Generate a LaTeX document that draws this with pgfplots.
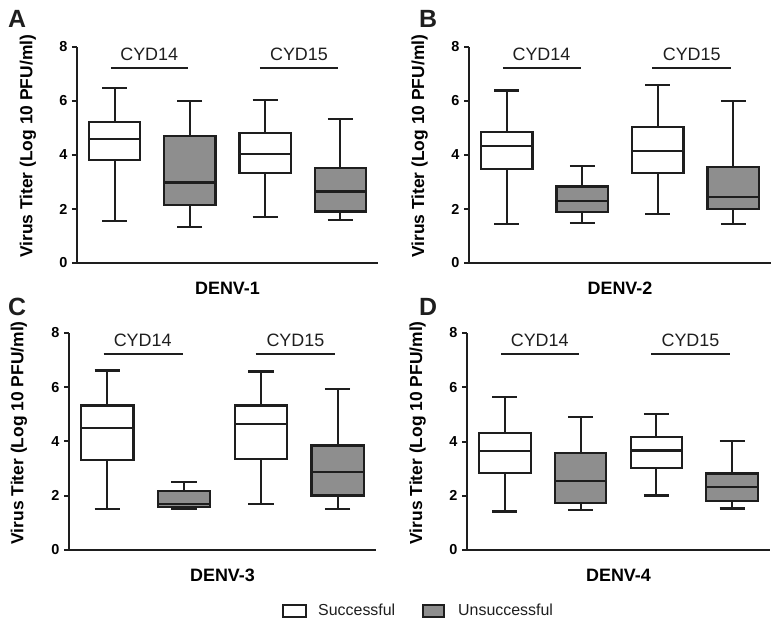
\documentclass[border=0pt]{standalone}
\usepackage{fontspec}
\setmainfont{Liberation Sans}
\usepackage{pgfplots}
\pgfplotsset{compat=1.18}
\usepgfplotslibrary{statistics}

\definecolor{boxgray}{HTML}{8E8E8E}
\definecolor{ink}{HTML}{1E1E1E}

\pgfplotsset{
  panel/.style={
    scale only axis,
    xmin=0.5, xmax=4.5, ymin=0, ymax=8,
    axis x line*=bottom, axis y line*=left,
    axis line style={line width=2bp, ink},
    xtick=\empty, ytick={0,2,4,6,8},
    tick align=outside, major tick length=5bp,
    tick style={line width=2bp, ink},
    /pgf/number format/assume math mode=true,
    yticklabel style={font=\fontsize{14.5}{16}\selectfont\bfseries, xshift=-1bp},
    ylabel={Virus Titer (Log 10 PFU/ml)},
    ylabel style={font=\fontsize{17.5}{19}\selectfont\bfseries, anchor=center,
                  at={(axis description cs:-0.163,0.54)}},
    xlabel style={font=\fontsize{18}{20}\selectfont\bfseries, anchor=center,
                  at={(axis description cs:0.5,-0.116)}},
    boxplot/draw direction=y,
    boxplot/box extend=0.68,
    boxplot/whisker extend=0.33,
    clip=false,
  },
  succ/.style={boxplot prepared, draw=ink, fill=white, line width=2.2bp, solid},
  fail/.style={boxplot prepared, draw=ink, fill=boxgray, line width=2.2bp, solid},
}

\newcommand{\groups}{%
  \draw[line width=2bp, ink] (axis cs:0.95,7.21) -- (axis cs:1.98,7.21);
  \draw[line width=2bp, ink] (axis cs:2.93,7.21) -- (axis cs:3.97,7.21);
  \node[font=\fontsize{18}{20}\selectfont, ink] at (axis cs:1.46,7.73) {CYD14};
  \node[font=\fontsize{18}{20}\selectfont, ink] at (axis cs:3.45,7.73) {CYD15};
}

\begin{document}
\begin{tikzpicture}
\useasboundingbox (0,0) rectangle (780bp,626bp);

% A: DENV-1
\begin{axis}[panel, at={(77bp,363bp)}, anchor=south west,
  width=301bp, height=216bp, xlabel={DENV-1}]
\addplot[succ, boxplot prepared={draw position=1, lower whisker=1.56,
  lower quartile=3.82, median=4.58, upper quartile=5.23, upper whisker=6.49}] coordinates {};
\addplot[fail, boxplot prepared={draw position=2, lower whisker=1.32,
  lower quartile=2.15, median=2.98, upper quartile=4.70, upper whisker=5.99}] coordinates {};
\addplot[succ, boxplot prepared={draw position=3, lower whisker=1.70,
  lower quartile=3.32, median=4.04, upper quartile=4.82, upper whisker=6.03}] coordinates {};
\addplot[fail, boxplot prepared={draw position=4, lower whisker=1.60,
  lower quartile=1.91, median=2.65, upper quartile=3.51, upper whisker=5.34}] coordinates {};
\groups
\end{axis}

% B: DENV-2
\begin{axis}[panel, at={(469bp,363bp)}, anchor=south west,
  width=302bp, height=216bp, xlabel={DENV-2}]
\addplot[succ, boxplot prepared={draw position=1, lower whisker=1.45,
  lower quartile=3.47, median=4.34, upper quartile=4.86, upper whisker=6.39}] coordinates {};
\addplot[fail, boxplot prepared={draw position=2, lower whisker=1.48,
  lower quartile=1.90, median=2.31, upper quartile=2.83, upper whisker=3.59}] coordinates {};
\addplot[succ, boxplot prepared={draw position=3, lower whisker=1.81,
  lower quartile=3.32, median=4.15, upper quartile=5.05, upper whisker=6.58}] coordinates {};
\addplot[fail, boxplot prepared={draw position=4, lower whisker=1.44,
  lower quartile=1.99, median=2.44, upper quartile=3.57, upper whisker=5.99}] coordinates {};
\groups
\end{axis}

% C: DENV-3
\begin{axis}[panel, at={(69bp,76bp)}, anchor=south west,
  width=307bp, height=217bp, xlabel={DENV-3}]
\addplot[succ, boxplot prepared={draw position=1, lower whisker=1.50,
  lower quartile=3.31, median=4.49, upper quartile=5.33, upper whisker=6.62}] coordinates {};
\addplot[fail, boxplot prepared={draw position=2, lower whisker=1.50,
  lower quartile=1.58, median=1.69, upper quartile=2.18, upper whisker=2.50}] coordinates {};
\addplot[succ, boxplot prepared={draw position=3, lower whisker=1.71,
  lower quartile=3.35, median=4.65, upper quartile=5.33, upper whisker=6.58}] coordinates {};
\addplot[fail, boxplot prepared={draw position=4, lower whisker=1.51,
  lower quartile=2.01, median=2.89, upper quartile=3.85, upper whisker=5.94}] coordinates {};
\groups
\end{axis}

% D: DENV-4
\begin{axis}[panel, at={(467bp,76bp)}, anchor=south west,
  width=303bp, height=217bp, xlabel={DENV-4}]
\addplot[succ, boxplot prepared={draw position=1, lower whisker=1.42,
  lower quartile=2.83, median=3.66, upper quartile=4.32, upper whisker=5.65}] coordinates {};
\addplot[fail, boxplot prepared={draw position=2, lower whisker=1.48,
  lower quartile=1.72, median=2.55, upper quartile=3.57, upper whisker=4.90}] coordinates {};
\addplot[succ, boxplot prepared={draw position=3, lower whisker=2.01,
  lower quartile=3.02, median=3.67, upper quartile=4.18, upper whisker=5.02}] coordinates {};
\addplot[fail, boxplot prepared={draw position=4, lower whisker=1.53,
  lower quartile=1.82, median=2.33, upper quartile=2.82, upper whisker=4.01}] coordinates {};
\groups
\end{axis}

% panel letters
\foreach \l/\x/\y in {A/17/607, B/428/607, C/17/319, D/428/319}
  \node[font=\fontsize{25}{28}\selectfont\bfseries, ink] at (\x bp,\y bp) {\l};

% legend
\draw[line width=1.6bp, ink, fill=white] (283bp,9bp) rectangle (306bp,21bp);
\node[anchor=base west, inner sep=0pt, font=\fontsize{16}{18}\selectfont, ink]
  at (318bp,11bp) {Successful};
\draw[line width=1.6bp, ink, fill=boxgray] (423bp,9bp) rectangle (444bp,21bp);
\node[anchor=base west, inner sep=0pt, font=\fontsize{16}{18}\selectfont, ink]
  at (458bp,11bp) {Unsuccessful};
\end{tikzpicture}
\end{document}
